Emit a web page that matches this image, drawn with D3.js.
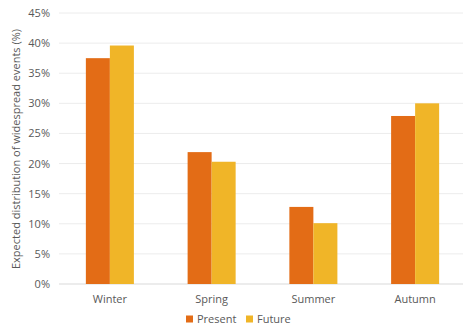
<!DOCTYPE html>
<html><head><meta charset="utf-8">
<script src="https://cdn.jsdelivr.net/npm/d3@7"></script>
<style>body{margin:0;background:#fff;} svg{display:block;font-family:"Open Sans",sans-serif;}</style>
</head><body>
<svg id="c" width="463" height="329"></svg>
<script>
const categories = ["Winter","Spring","Summer","Autumn"];
const seriesNames = ["Present","Future"];
const present = [37.5, 21.9, 12.8, 27.9];
const future = [39.6, 20.3, 10.1, 30.0];
const yTicks = [0,5,10,15,20,25,30,35,40,45];
const colors = ["#E36C16","#F0B528"];

const svg = d3.select("#c");
const y = d3.scaleLinear().domain([0,45]).range([284,13]);
const x = d3.scaleBand().domain(categories).range([59,466]).paddingInner(0.528).paddingOuter(0.264);
const x1 = d3.scaleBand().domain(seriesNames).range([0,x.bandwidth()]);

// grid
svg.append("g").selectAll("line").data(yTicks).join("line")
  .attr("x1",59).attr("x2",463).attr("y1",d=>y(d)).attr("y2",d=>y(d))
  .attr("stroke",d=>d===0?"#d9d9d9":"#ececec").attr("stroke-width",1);

// y axis labels
const yAxis = d3.axisLeft(y).tickValues(yTicks).tickFormat(d=>d+"%").tickSize(0).tickPadding(0);
const ya = svg.append("g").attr("transform","translate(50,0)").call(yAxis);
ya.select(".domain").remove();
ya.selectAll("text").attr("fill","#595959").style("font-size","11px").style("font-family","Open Sans, sans-serif");

// bars
const data = categories.map((c,i)=>({c, vals:[present[i],future[i]]}));
const g = svg.append("g").selectAll("g").data(data).join("g").attr("transform",d=>`translate(${x(d.c)},0)`);
g.selectAll("rect").data(d=>d.vals.map((v,j)=>({s:seriesNames[j],v,j}))).join("rect")
  .attr("x",d=>x1(d.s)).attr("width",x1.bandwidth())
  .attr("y",d=>y(d.v)).attr("height",d=>y(0)-y(d.v))
  .attr("fill",d=>colors[d.j]);

// x axis
const xAxis = d3.axisBottom(x).tickSize(0).tickPadding(0);
const xa = svg.append("g").attr("transform","translate(0,295)").call(xAxis);
xa.select(".domain").remove();
xa.selectAll("text").attr("fill","#595959").style("font-size","11px").style("font-family","Open Sans, sans-serif");

// y title
svg.append("text").attr("transform","translate(20,149) rotate(-90)").attr("text-anchor","middle")
  .attr("fill","#595959").style("font-size","11px").text("Expected distribution of widespread events (%)");

// legend
const leg = svg.append("g");
const lx = [186, 246];
seriesNames.forEach((s,i)=>{
  leg.append("rect").attr("x",lx[i]).attr("y",315.5).attr("width",7).attr("height",7).attr("fill",colors[i]);
  leg.append("text").attr("x",lx[i]+11).attr("y",323).attr("fill","#595959").style("font-size","11px").text(s);
});
</script>
</body></html>
